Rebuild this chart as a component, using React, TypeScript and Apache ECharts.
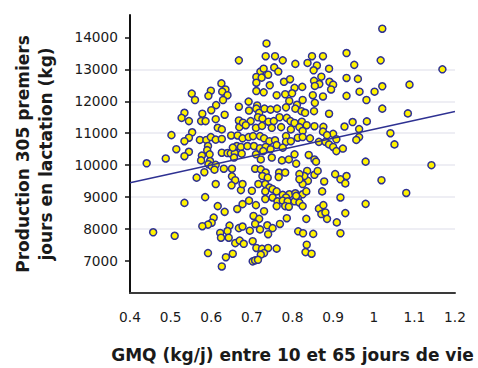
import React, { useEffect, useRef } from "react";
import * as echarts from "echarts";

// [GMQ (kg/j), production 305 j (kg)]
const observations: [number, number][] = [
  [0.668,13280],[0.552,12240],[0.560,12040],[0.599,12330],[0.593,12170],[0.625,12560],[0.635,12370],[0.627,12300],
  [0.640,12190],[0.629,12040],[0.612,11880],[0.668,11830],[0.736,13810],[0.734,13410],[0.757,13410],[0.776,13280],
  [0.807,13170],[0.848,13410],[0.875,13410],[0.837,13200],[0.860,13120],[0.852,12970],[0.890,13020],[0.933,13510],
  [0.933,12730],[0.721,12930],[0.729,13020],[0.755,13060],[0.765,12930],[0.740,12830],[0.711,12760],[0.724,12740],
  [0.711,12580],[0.744,12500],[0.779,12610],[0.794,12690],[0.871,12770],[0.853,12640],[0.891,12610],[0.900,12520],
  [0.866,12540],[0.855,12480],[0.805,12420],[0.824,12450],[0.895,12370],[0.711,12320],[0.729,12280],[0.761,12190],
  [0.782,12220],[0.799,12250],[0.850,12190],[0.875,12150],[0.933,12170],[0.825,12040],[0.792,12010],[0.855,11950],
  [0.692,11990],[0.713,11870],[0.811,11890],[1.021,14270],[0.952,13140],[1.017,13280],[1.169,13000],[0.961,12700],
  [1.021,12470],[1.088,12520],[0.965,12300],[1.002,12300],[0.982,12040],[1.021,11770],[0.534,11640],[0.527,11480],
  [0.545,11380],[0.578,11610],[0.600,11720],[0.575,11380],[0.586,11380],[0.611,11440],[0.633,11580],[0.616,11170],
  [0.626,11120],[0.668,11400],[0.669,11190],[0.502,10940],[0.553,11030],[0.545,10860],[0.534,10750],[0.572,10790],
  [0.588,10790],[0.599,10880],[0.611,10800],[0.626,10820],[0.649,10930],[0.665,10930],[0.592,10600],[0.590,10470],
  [0.514,10500],[0.545,10420],[0.534,10280],[0.577,10300],[0.596,10340],[0.626,10390],[0.640,10380],[0.648,10370],
  [0.658,10380],[0.663,10600],[0.653,10550],[0.656,10240],[0.488,10210],[0.441,10060],[0.575,10150],[0.597,10130],
  [0.593,10030],[0.601,9970],[0.611,10010],[0.608,9860],[0.583,9780],[0.631,9890],[0.651,9890],[0.564,9610],
  [0.651,9650],[0.659,9530],[0.650,9370],[0.611,9410],[0.585,9000],[0.673,9220],[0.693,11710],[0.711,11770],
  [0.718,11640],[0.731,11770],[0.746,11740],[0.762,11770],[0.784,11810],[0.807,11770],[0.822,11690],[0.831,11640],
  [0.853,11690],[0.890,11610],[0.678,11330],[0.697,11380],[0.685,11250],[0.715,11500],[0.726,11460],[0.741,11360],
  [0.754,11380],[0.768,11500],[0.786,11480],[0.795,11380],[0.805,11320],[0.823,11360],[0.835,11250],[0.854,11220],
  [0.876,11200],[0.928,11210],[0.710,11170],[0.725,11230],[0.749,11170],[0.772,11190],[0.796,11120],[0.817,11190],
  [0.825,11070],[0.875,11050],[0.900,10980],[0.677,10840],[0.692,10880],[0.703,10910],[0.720,10910],[0.730,10840],
  [0.743,10750],[0.757,10780],[0.784,10910],[0.784,10730],[0.796,10750],[0.813,10860],[0.825,10880],[0.843,10840],
  [0.865,10730],[0.881,10730],[0.890,10650],[0.900,10570],[0.908,10440],[0.924,10520],[0.885,10940],[0.908,10810],
  [0.673,10570],[0.689,10600],[0.705,10600],[0.720,10530],[0.734,10570],[0.746,10500],[0.761,10630],[0.776,10550],
  [0.710,10340],[0.728,10440],[0.722,10180],[0.749,10240],[0.774,10150],[0.791,10180],[0.805,10340],[0.809,10050],
  [0.840,10320],[0.854,10180],[0.858,10110],[0.675,10360],[0.708,9890],[0.722,9870],[0.734,9770],[0.726,9660],
  [0.739,9610],[0.716,9410],[0.733,9410],[0.743,9300],[0.751,9250],[0.761,9180],[0.776,9070],[0.792,9090],
  [0.807,9120],[0.825,9090],[0.834,9180],[0.838,9510],[0.836,9820],[0.829,9660],[0.817,9720],[0.825,9410],
  [0.817,9560],[0.854,9700],[0.862,9820],[0.905,9720],[0.918,9560],[0.933,9660],[0.878,9490],[0.873,9180],
  [0.767,9770],[0.782,9770],[0.766,9630],[0.677,9410],[0.700,9200],[0.733,9180],[0.751,8990],[0.784,8990],
  [0.813,8970],[1.084,11620],[0.948,11350],[0.983,11370],[0.964,11130],[0.964,10880],[0.957,10790],[1.041,11000],
  [1.051,10650],[0.980,10110],[1.142,10000],[0.930,9430],[1.019,9530],[1.080,9130],[0.534,8820],[0.616,8720],
  [0.633,8540],[0.664,8630],[0.606,8360],[0.601,8200],[0.592,8140],[0.578,8090],[0.645,8110],[0.640,7940],
  [0.668,8030],[0.457,7900],[0.510,7790],[0.622,7880],[0.624,7730],[0.643,7730],[0.659,7560],[0.670,7640],
  [0.592,7250],[0.636,7120],[0.653,7230],[0.626,6830],[0.677,8780],[0.693,8890],[0.733,8940],[0.710,8750],
  [0.730,8560],[0.763,8870],[0.761,8720],[0.776,8890],[0.788,8870],[0.782,8720],[0.791,8700],[0.805,8870],
  [0.817,8830],[0.825,8720],[0.809,9040],[0.918,8990],[0.865,8640],[0.876,8750],[0.871,8470],[0.881,8520],
  [0.885,8320],[0.909,8210],[0.930,8500],[0.704,8410],[0.718,8320],[0.708,8160],[0.720,7990],[0.738,8120],
  [0.751,8030],[0.740,7840],[0.769,8160],[0.786,8340],[0.834,8320],[0.677,8080],[0.695,7950],[0.814,7930],
  [0.826,7870],[0.851,7850],[0.918,7870],[0.680,7540],[0.702,7620],[0.711,7410],[0.725,7380],[0.740,7410],
  [0.761,7390],[0.730,7250],[0.722,7200],[0.835,7510],[0.832,7280],[0.847,7230],[0.702,6990],[0.708,7020],
  [0.715,7040],[0.980,8790],
];

const trendGmq = [0.4, 1.2];
const trendProduction = [9450, 11680];
const yTickValues = [7000, 8000, 9000, 10000, 11000, 12000, 13000, 14000];

const FONT = "'DejaVu Sans', 'Noto Sans', sans-serif";
const NAVY = "#2e3192";

export default function App() {
  const ref = useRef<HTMLDivElement>(null);
  useEffect(() => {
    if (!ref.current) return;
    const chart = echarts.init(ref.current, undefined, { renderer: "svg" });
    chart.setOption({
      animation: false,
      backgroundColor: "#ffffff",
      grid: { left: 130, right: 23, top: 15, bottom: 73, containLabel: false },
      xAxis: {
        type: "value",
        min: 0.4,
        max: 1.2,
        interval: 0.1,
        name: "GMQ (kg/j) entre 10 et 65 jours de vie",
        nameLocation: "middle",
        nameGap: 53,
        nameTextStyle: { fontFamily: FONT, fontWeight: "bold", fontSize: 17, color: "#1a1a1a" },
        axisLine: { show: true, onZero: false, lineStyle: { color: "#3a3a3a", width: 2 } },
        axisTick: { show: false },
        splitLine: { show: false },
        axisLabel: { fontFamily: FONT, fontSize: 13.7, color: "#1a1a1a", margin: 17 },
      },
      yAxis: {
        type: "value",
        min: 6000,
        max: 14700,
        interval: 1000,
        name: "Production 305 premiers\njours en lactation (kg)",
        nameLocation: "middle",
        nameGap: 73,
        nameTextStyle: { fontFamily: FONT, fontWeight: "bold", fontSize: 17, color: "#1a1a1a", lineHeight: 23 },
        axisLine: { show: true, onZero: false, lineStyle: { color: "#111111", width: 2 } },
        axisTick: { show: true, length: 5, lineStyle: { color: "#111111", width: 1.5 }, customValues: yTickValues },
        axisLabel: {
          fontFamily: FONT,
          fontSize: 13.7,
          color: "#1a1a1a",
          margin: 12,
          customValues: yTickValues,
          formatter: (v: number) => String(v),
        },
        splitLine: { show: true, showMinLine: false, showMaxLine: false, lineStyle: { color: "#e9e9f0", width: 1.5 } },
      },
      series: [
        {
          type: "scatter",
          data: observations,
          symbol: "circle",
          symbolSize: 7,
          itemStyle: { color: "#fff200", borderColor: NAVY, borderWidth: 1.5, opacity: 1 },
          z: 2,
        },
        {
          type: "line",
          data: trendGmq.map((g, i) => [g, trendProduction[i]]),
          symbol: "none",
          lineStyle: { color: NAVY, width: 1.3 },
          z: 3,
        },
      ],
    });
    return () => chart.dispose();
  }, []);
  return <div ref={ref} style={{ position: "absolute", left: 0, top: 0, width: 478, height: 368 }} />;
}
